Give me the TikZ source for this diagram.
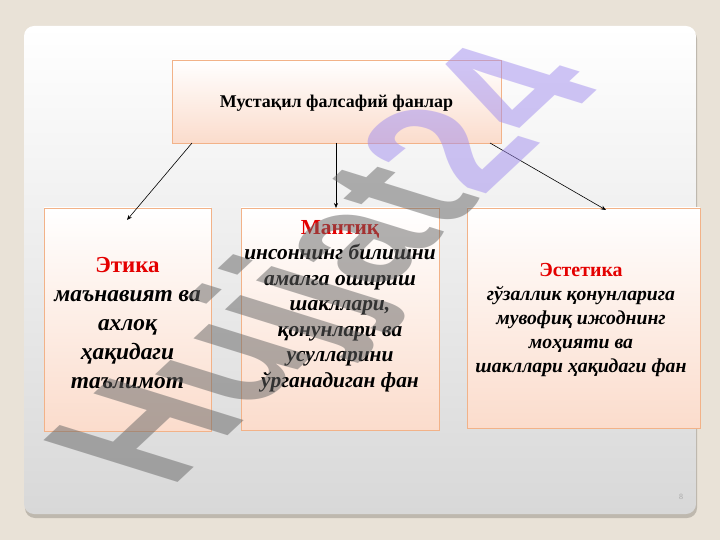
\documentclass[tikz,border=0pt]{standalone}
\usepackage{fontspec}
\setmainfont{Liberation Serif}
\newfontfamily\wmfont{Liberation Sans}
\usetikzlibrary{arrows.meta}
\definecolor{bgbeige}{RGB}{233,226,215}
\definecolor{slideshadow}{RGB}{190,184,174}
\definecolor{slidebottom}{RGB}{216,216,216}
\definecolor{slidemid}{RGB}{244,244,244}
\definecolor{boxborder}{RGB}{242,178,136}
\definecolor{boxbottom}{RGB}{251,220,204}
\definecolor{titlered}{RGB}{228,0,0}
\definecolor{wmgray}{RGB}{100,100,100}
\definecolor{wmpurple}{RGB}{160,140,238}
\tikzset{
  pbox/.style={draw=boxborder, line width=0.8bp, top color=white, bottom color=boxbottom, inner sep=0pt},
  conn/.style={-{Stealth[length=5bp,width=4bp]}, line width=0.6bp, black},
  bodytext/.style={align=center, inner sep=0pt, text=black}
}
\begin{document}
\begin{tikzpicture}[x=1bp,y=-1bp]
\useasboundingbox (0,0) rectangle (720,540);
\fill[bgbeige] (0,0) rectangle (720,540);
% slide
\fill[slideshadow, rounded corners=10bp] (25,29) rectangle (697,518);
\shade[rounded corners=10bp, top color=white, middle color=slidemid, bottom color=slidebottom] (24,26) rectangle (696,514);

% boxes
\node[pbox, minimum width=329bp, minimum height=83bp] (top) at (336.5,101.5) {};
\node[pbox, minimum width=167bp, minimum height=223bp] (etika) at (127.5,319.5) {};
\node[pbox, minimum width=198bp, minimum height=222bp] (mantiq) at (340,319) {};
\node[pbox, minimum width=233bp, minimum height=220bp] (estetika) at (583.5,318) {};

% texts
\node[bodytext, font=\fontsize{18}{21}\selectfont\bfseries] (ttop) at (336.5,103) {Мустақил фалсафий фанлар};
\node[bodytext, font=\fontsize{23.5}{29}\selectfont\bfseries\itshape] (tetika) at (127.5,323)
  {{\color{titlered}\upshape\fontsize{23}{29}\selectfont Этика}\\маънавият ва\\ахлоқ\\ҳақидаги\\таълимот};
\node[bodytext, font=\fontsize{21.5}{25.6}\selectfont\bfseries\itshape] (tmantiq) at (340,306)
  {{\color{titlered}\upshape\fontsize{21.5}{25.6}\selectfont Мантиқ}\\инсоннинг билишни\\амалга ошириш\\шакллари,\\қонунлари ва\\усулларини\\ўрганадиган фан};
\node[bodytext, font=\fontsize{19.8}{24}\selectfont\bfseries\itshape] (testetika) at (581,320)
  {{\color{titlered}\upshape\fontsize{20}{24}\selectfont Эстетика}\\гўзаллик қонунларига\\мувофиқ ижоднинг\\моҳияти ва\\шакллари ҳақидаги фан};

% connectors
\coordinate (s1) at (192,143);
\coordinate (e1) at (127,220);
\coordinate (s2) at (336,143);
\coordinate (e2) at (336,208);
\coordinate (s3) at (490,143);
\coordinate (e3) at (606,210);
\draw[conn] (s1) -- (e1);
\draw[conn] (s2) -- (e2);
\draw[conn] (s3) -- (e3);

% page number
\node[font=\fontsize{8}{8}\selectfont, text=black!35, inner sep=0pt] (pg) at (681,497) {8};

% watermark
\begin{scope}[shift={(170,490)}, yscale=0.54, rotate=60, transform shape]
\node[anchor=base west, inner sep=0pt, text opacity=0.5, font=\wmfont\bfseries\fontsize{226}{226}\selectfont] (wm) at (0,0)
  {\textcolor{wmgray}{Hujjat}\textcolor{wmpurple}{24}};
\end{scope}
\end{tikzpicture}
\end{document}
